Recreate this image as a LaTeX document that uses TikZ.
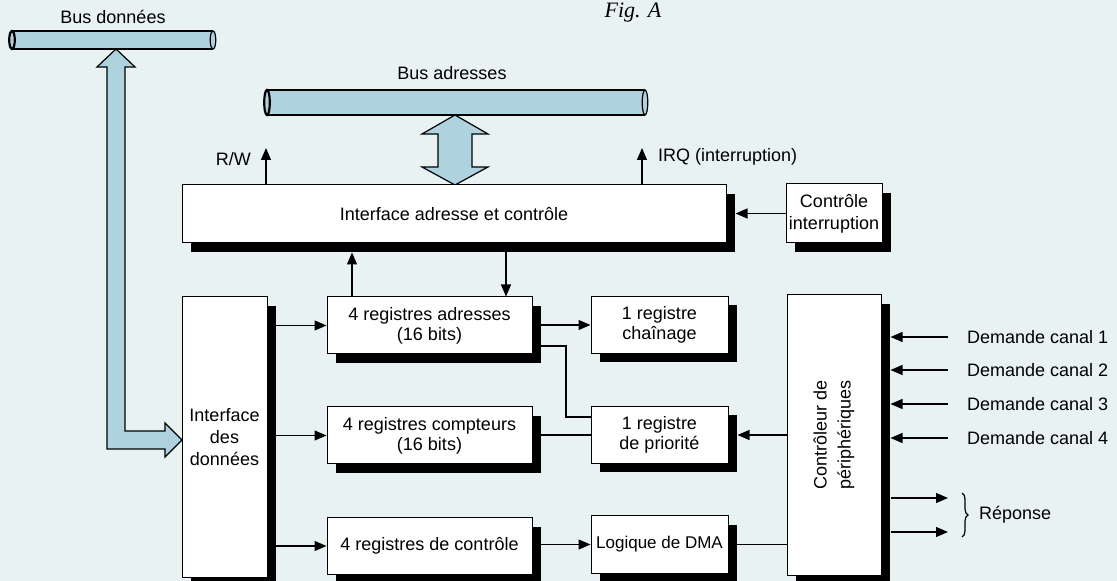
\documentclass[tikz,border=0pt]{standalone}
\usepackage{fontspec}
\setmainfont{Liberation Sans}
\newfontfamily\figfont{Liberation Serif}
\usetikzlibrary{calc,shadows,arrows.meta,decorations.pathreplacing}
\definecolor{paper}{HTML}{E8F2F3}
\definecolor{busblue}{HTML}{AED3DF}

\begin{document}
\begin{tikzpicture}[x=0.5pt,y=-0.5pt,
    font=\fontsize{9}{10}\selectfont,
    blk/.style={draw,line width=0.5pt,fill=white,inner sep=0pt,align=center,
      drop shadow={shadow xshift=4.5pt,shadow yshift=-4.5pt,fill=black,opacity=1}},
    arr/.style={line width=0.6pt,-{Triangle[length=6pt,width=5pt]}},
    wire/.style={line width=0.6pt},
    fat/.style={draw,line width=0.6pt,fill=busblue}]

        % fond et cadre (pixels)
        \fill[paper] (0,0) rectangle (1117,581);
        \useasboundingbox (0,0) rectangle (1117,581);
        \def\sh{9} % décalage de l'ombre

        \node[font=\figfont\itshape\fontsize{11}{13}\selectfont,anchor=base] (figlbl) at (633,18) {Fig. A};

        % les deux bus
        \foreach \xa/\xb/\ya/\yb in {12/213/31/49,267/645/90/115} {
            \fill[busblue] (\xa,\ya) rectangle (\xb,\yb);
            \draw[wire] (\xa,\ya) -- (\xb,\ya) (\xa,\yb) -- (\xb,\yb);
            \draw[line width=1.1pt,fill=busblue] (\xa,{(\ya+\yb)/2}) ellipse [x radius=1.4pt,y radius={(\yb-\ya)/4*1pt}];
            \draw[wire,fill=busblue] (\xb,{(\ya+\yb)/2}) ellipse [x radius=1.4pt,y radius={(\yb-\ya)/4*1pt}];
        }
        \node (busdonlbl) at (113,17) {Bus données};
        \node (busadrlbl) at (452,73) {Bus adresses};

        % flèches larges
        \draw[fat] (116,49) -- (135,67) -- (125,67) -- (125,431) -- (165,431) -- (165,423)
            -- (182,440) -- (165,457) -- (165,449) -- (107,449) -- (107,67) -- (97,67) -- cycle;
        \draw[fat] (455,115) -- (488,134) -- (472,134) -- (472,167) -- (488,167) -- (455,185)
            -- (422,167) -- (438,167) -- (438,134) -- (422,134) -- cycle;

        % blocs
        \node[blk,minimum width=272pt,minimum height=29pt] (iac) at (454,214) {Interface adresse et contrôle};
        \node[blk,minimum width=48pt,minimum height=29.5pt,font=\fontsize{9}{11}\selectfont] (ctrlint) at (834,213.5) {Contrôle\\interruption};
        \node[blk,minimum width=42.5pt,minimum height=140pt,font=\fontsize{9}{11}\selectfont] (idata) at (224.5,437) {Interface\\des\\données};
        \node[blk,minimum width=102.5pt,minimum height=28.5pt] (regadr) at (429.5,325.5) {4 registres adresses\\(16 bits)};
        \node[blk,minimum width=102.5pt,minimum height=28.5pt] (regcpt) at (429.5,435.5) {4 registres compteurs\\(16 bits)};
        \node[blk,minimum width=102.5pt,minimum height=28.5pt] (regctl) at (429.5,546) {4 registres de contrôle};
        \node[blk,minimum width=68.5pt,minimum height=28.5pt] (chain) at (659.5,325) {1 registre\\chaînage};
        \node[blk,minimum width=68.5pt,minimum height=28.5pt] (prio) at (659.5,435) {1 registre\\de priorité};
        \node[blk,minimum width=68.5pt,minimum height=28.5pt,font=\fontsize{8.5}{10}\selectfont] (dma) at (659.5,544.5) {Logique de DMA};
        \node[blk,minimum width=47pt,minimum height=140pt] (periph) at (834,435) {};
        \node[rotate=90,align=center,font=\fontsize{9}{12}\selectfont] (periphlbl) at (periph.center) {Contrôleur de\\périphériques};

        % signaux vers le haut
        \coordinate (rwend) at (266,148);
        \coordinate (irqend) at (642,148);
        \draw[arr] (rwend |- iac.north) -- (rwend);
        \draw[arr] (irqend |- iac.north) -- (irqend);
        \node[anchor=east] (rwlbl) at (258,159) {R/W};
        \node[anchor=west] (irqlbl) at (651,157) {IRQ (interruption)};

        \draw[arr] (ctrlint.west) -- ($(iac.east |- ctrlint.west)+(\sh,0)$);
        \draw[arr] (352,0 |- regadr.north) -- ($(352,0 |- iac.south)+(0,\sh)$);
        \draw[arr] ($(506,0 |- iac.south)+(0,\sh)$) -- (506,0 |- regadr.north);

        % liaisons internes
        \foreach \r in {regadr,regcpt,regctl}
            \draw[arr] (idata.east |- \r.west) -- (\r.west);
        \draw[arr] (regadr.east |- chain.west) -- (chain.west);
        \draw[wire] (regadr.east |- 0,346) -| (566,417) -- (prio.west |- 0,417);
        \draw[wire] (regcpt.east |- prio.west) -- (prio.west);
        \draw[arr] (regctl.east |- dma.west) -- (dma.west);
        \draw[arr] (periph.west |- prio.east) -- ($(prio.east)+(\sh,0)$);
        \draw[wire] (dma.east) -- (periph.west |- dma.east);

        % demandes et réponse
        \foreach \i/\y in {1/337,2/370,3/404,4/438} {
            \node[anchor=west] (dem\i) at (960,\y) {Demande canal \i};
            \draw[arr] ($(dem\i.west)+(-12,0)$) -- ($(periph.east |- dem\i.west)+(\sh,0)$);
        }
        \coordinate (rep1) at (948,498);
        \coordinate (rep2) at (948,532);
        \draw[arr] ($(periph.east |- rep1)+(\sh,0)$) -- (rep1);
        \draw[arr] ($(periph.east |- rep2)+(\sh,0)$) -- (rep2);
        \draw[wire,decorate,decoration={brace,amplitude=3pt}] (962,493) -- (962,537);
        \node[anchor=west] (replbl) at (972,515) {Réponse};
\end{tikzpicture}
\end{document}
